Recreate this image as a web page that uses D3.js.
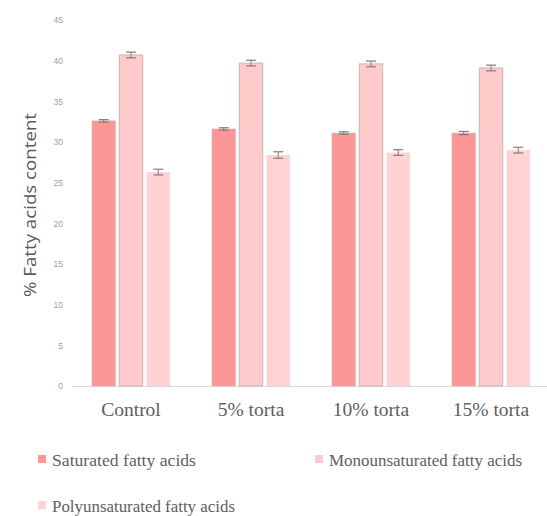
<!DOCTYPE html>
<html><head><meta charset="utf-8">
<script src="https://cdn.jsdelivr.net/npm/d3@7"></script>
<style>body{margin:0;background:#fff}svg{display:block}.serif{font-family:"Liberation Serif","Times New Roman","DejaVu Serif",serif}</style>
</head><body>
<svg id="c" width="547" height="516"></svg>
<script>
const categories = ["Control", "5% torta", "10% torta", "15% torta"];
const seriesNames = ["Saturated fatty acids", "Monounsaturated fatty acids", "Polyunsaturated fatty acids"];
const saturated = [32.6, 31.6, 31.1, 31.1];
const monounsaturated = [40.7, 39.7, 39.6, 39.1];
const polyunsaturated = [26.3, 28.4, 28.7, 29.0];
const satErr = [0.15, 0.15, 0.15, 0.2];
const monoErr = [0.35, 0.35, 0.35, 0.35];
const polyErr = [0.35, 0.4, 0.35, 0.35];
const yTicks = [0, 5, 10, 15, 20, 25, 30, 35, 40, 45];
const colors = ["#fd9696", "#ffcaca", "#ffd3d3"];

const series = [
  {name: seriesNames[0], values: saturated, err: satErr},
  {name: seriesNames[1], values: monounsaturated, err: monoErr},
  {name: seriesNames[2], values: polyunsaturated, err: polyErr}
];

const svg = d3.select("#c");
const x0 = d3.scaleBand().domain(categories).range([71, 551]);
const x1 = d3.scaleBand().domain(d3.range(3)).range([0, 78]).paddingInner(0.14);
const y = d3.scaleLinear().domain([0, 45]).range([386, 20]);

const yAxis = d3.axisLeft(y).tickValues(yTicks).tickSize(0).tickPadding(0);
const ga = svg.append("g").attr("transform", "translate(63,0)").call(yAxis);
ga.select(".domain").remove();
ga.selectAll("text").attr("font-family", "Liberation Sans, sans-serif").attr("font-size", 8.5).attr("fill", "#a0a0a0");

svg.append("line").attr("x1", 72).attr("x2", 547).attr("y1", y(0)+0.5).attr("y2", y(0)+0.5)
  .attr("stroke", "#d9d9d9").attr("stroke-width", 1.2);

const groups = svg.selectAll("g.grp").data(categories).join("g")
  .attr("transform", d => `translate(${x0(d) + x0.bandwidth()/2 - 39},0)`);
series.forEach((s, si) => {
  groups.append("rect")
    .attr("x", x1(si)).attr("width", x1.bandwidth())
    .attr("y", (d, i) => y(s.values[i]))
    .attr("height", (d, i) => y(0) - y(s.values[i]))
    .attr("fill", colors[si])
    .attr("stroke", si === 2 ? "none" : "#c8b8b8").attr("stroke-width", si === 1 ? 1 : 0.6);
  groups.each(function(d, i) {
    const g = d3.select(this);
    const cx = x1(si) + x1.bandwidth()/2;
    const v = s.values[i], e = s.err[i];
    g.append("line").attr("x1", cx).attr("x2", cx).attr("y1", y(v+e)).attr("y2", y(v-e)).attr("stroke", "#8a7a7a").attr("stroke-width", 1);
    [v+e, v-e].forEach(t => g.append("line").attr("x1", cx-5).attr("x2", cx+5).attr("y1", y(t)).attr("y2", y(t)).attr("stroke", "#8a7a7a").attr("stroke-width", 1.2));
  });
});

svg.selectAll("text.xl").data(categories).join("text")
  .attr("class", "serif")
  .attr("x", d => x0(d) + x0.bandwidth()/2).attr("y", 416)
  .attr("text-anchor", "middle")
  .attr("font-size", 19.5).attr("fill", "#606060").text(d => d);

svg.append("text").attr("transform", "translate(36,205) rotate(-90)")
  .attr("text-anchor", "middle").attr("font-family", "Open Sans, sans-serif")
  .attr("font-size", 16).attr("fill", "#595959")
  .attr("textLength", 184).attr("lengthAdjust", "spacingAndGlyphs")
  .text("% Fatty acids content");

const legPos = [[38, 459, 144], [315, 459, 193], [38, 505, 183]];
series.forEach((s, si) => {
  const [lx, ly, tl] = legPos[si];
  svg.append("rect").attr("x", lx).attr("y", ly-4).attr("width", 8).attr("height", 8).attr("fill", colors[si]);
  svg.append("text").attr("class", "serif").attr("x", lx+14).attr("y", ly+6.5)
    .attr("font-size", 17.5).attr("fill", "#606060")
    .attr("textLength", tl).attr("lengthAdjust", "spacingAndGlyphs").text(s.name);
});
</script>
</body></html>
